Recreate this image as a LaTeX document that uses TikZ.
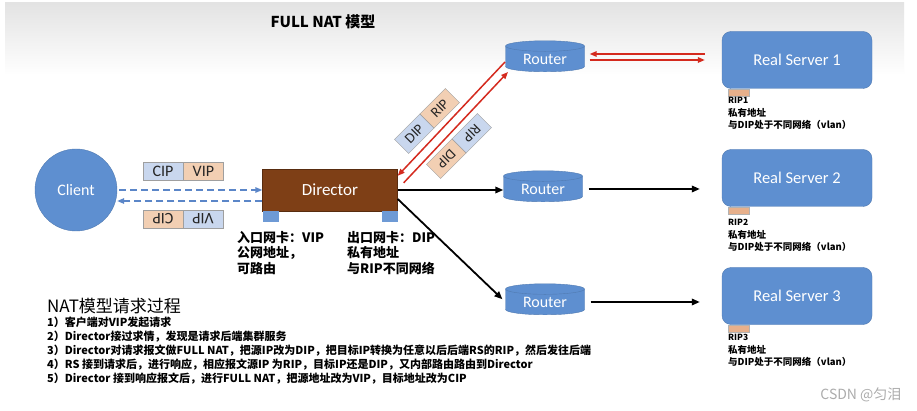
\documentclass[tikz,border=0pt]{standalone}
\usepackage{fontspec}
\setmainfont{Carlito}
\newfontfamily\cjk{Noto Sans CJK SC}
\usetikzlibrary{arrows.meta, calc, shapes.geometric, positioning}
\definecolor{nodeblue}{HTML}{5E8FD0}
\definecolor{dirbrown}{HTML}{7E3F16}
\definecolor{cellblue}{HTML}{C9D7EE}
\definecolor{cellpeach}{HTML}{F2CFB3}
\definecolor{nicpeach}{HTML}{E7B08B}
\definecolor{linkred}{HTML}{D42A1E}
\definecolor{dashblue}{HTML}{5B86C8}

\begin{document}
\begin{tikzpicture}[x=1pt, y=-1pt,
    bluebox/.style={fill=nodeblue, draw=nodeblue!85!black, text=white, font=\fontsize{16}{18}\selectfont},
    router/.style={bluebox, cylinder, shape border rotate=90, aspect=0.24, minimum width=79pt, minimum height=31pt, inner sep=0pt},
    server/.style={bluebox, rounded corners=9pt, minimum width=150pt, minimum height=57pt, font=\fontsize{16.5}{18}\selectfont},
    pkt/.style={draw=gray!75, minimum width=40pt, minimum height=18pt, inner sep=0pt, font=\fontsize{16}{17}\selectfont, text=black!85},
    dpkt/.style={pkt, minimum width=36pt, minimum height=20pt, font=\fontsize{14.5}{15}\selectfont},
    nic/.style={fill=nodeblue!90!white, minimum width=16pt, minimum height=11pt, inner sep=0pt},
    rsnic/.style={fill=nicpeach, draw=gray!60, minimum width=21pt, minimum height=7pt, inner sep=0pt},
    note/.style={anchor=north west, align=left, inner sep=0pt, font=\cjk\bfseries\fontsize{13}{15.5}\selectfont},
    rsnote/.style={note, font=\cjk\bfseries\fontsize{9.5}{12.5}\selectfont},
    flow/.style={line width=1.8pt, -{Triangle[length=8pt, width=6.5pt]}},
    redflow/.style={draw=linkred, line width=1.5pt, -{Triangle[length=7pt, width=5.5pt]}},
    dashflow/.style={draw=dashblue, line width=1.5pt, dash pattern=on 7pt off 4pt, -{Triangle[length=7pt, width=5.5pt]}}]

    % page and faint top shading
    \useasboundingbox (0,0) rectangle (917,411);
    \fill[white] (0,0) rectangle (917,411);
    \shade[top color=gray!22, bottom color=white] (5,3) rectangle (904,75);

    \node[font=\cjk\bfseries\fontsize{15}{17}\selectfont] (title) at (323,22) {FULL NAT 模型};

    \node[circle, bluebox, minimum size=82pt, inner sep=0pt] (client) at (76,190) {Client};
    \node[fill=dirbrown, draw=dirbrown!70!black, text=white, minimum width=135pt, minimum height=42pt, font=\fontsize{17}{19}\selectfont] (dir) at (330,190) {Director};
    \node[nic, anchor=north west] (nicin) at (dir.south west) {};
    \node[nic, anchor=north east] (nicout) at (dir.south east) {};

    \node[router] (r1) at (545,59) {Router};
    \node[router] (r2) at (543,189) {Router};
    \node[router] (r3) at (545,302) {Router};

    \node[server] (rs1) at (797,60) {Real Server 1};
    \node[server] (rs2) at (797,178) {Real Server 2};
    \node[server] (rs3) at (797,296) {Real Server 3};
    \node[rsnic, anchor=north west] (rip1) at ($(rs1.south west)+(6,0)$) {};
    \node[rsnic, anchor=north west] (rip2) at ($(rs2.south west)+(6,0)$) {};
    \node[rsnic, anchor=north west] (rip3) at ($(rs3.south west)+(6,0)$) {};

    % packets between client and director
    \node[pkt, fill=cellblue] (cip) at (163,171) {CIP};
    \node[pkt, fill=cellpeach, right=0pt of cip] (vip) {VIP};
    \begin{scope}[shift={(183,219)}, rotate=180, transform shape]
      \node[pkt, fill=cellblue] (backvip) at (-20,0) {VIP};
      \node[pkt, fill=cellpeach] (backcip) at (20,0) {CIP};
    \end{scope}

    % packets between director and router 1
    \begin{scope}[shift={(427,121)}, rotate=45, transform shape]
      \node[dpkt, fill=cellblue] (updip) at (-18,0) {DIP};
      \node[dpkt, fill=cellpeach] (uprip) at (18,0) {RIP};
    \end{scope}
    \begin{scope}[shift={(459,146)}, rotate=225, transform shape]
      \node[dpkt, fill=cellblue] (downrip) at (-18,0) {RIP};
      \node[dpkt, fill=cellpeach] (downdip) at (18,0) {DIP};
    \end{scope}

    \draw[dashflow] ($(client.east)+(2,0)$) -- (dir.west);
    \draw[dashflow] ($(dir.west)+(0,11)$) -- ($(client.east)+(0,11)$);

    \draw[redflow] ($(r1.center)+(-40,3)$) -- ($(dir.north east)+(0,7)$);
    \draw[redflow] ($(dir.north east)+(6,14)$) -- ($(r1.center)+(-37,13)$);
    \draw[redflow, shorten <=17pt, shorten >=5pt] ([yshift=6pt]rs1.west) -- ([yshift=6pt]rs1.west -| r1.east);
    \draw[redflow, shorten <=5pt, shorten >=17pt] (r1.east |- rs1.west) -- (rs1.west);

    \draw[flow] (dir.east) -- (dir.east -| r2.west);
    \draw[flow, shorten <=6pt, shorten >=22pt] (r2.east) -- (r2.east -| rs2.west);
    \draw[flow, shorten >=4pt] ($(dir.east)+(0,9)$) -- (r3.west);
    \draw[flow, shorten <=6pt, shorten >=22pt] (r3.east) -- (r3.east -| rs3.west);

    \node[note] (innote) at (237,231) {入口网卡：VIP\\公网地址，\\可路由};
    \node[note] (outnote) at (347,231) {出口网卡：DIP\\私有地址\\与RIP不同网络};

    \node[rsnote] (rs1note) at (728,97) {{\fontsize{8.5}{12.5}\selectfont RIP1}\\私有地址\\与DIP处于不同网络（vlan）};
    \node[rsnote] (rs2note) at (728,219) {{\fontsize{8.5}{12.5}\selectfont RIP2}\\私有地址\\与DIP处于不同网络（vlan）};
    \node[rsnote] (rs3note) at (728,334) {{\fontsize{8.5}{12.5}\selectfont RIP3}\\私有地址\\与DIP处于不同网络（vlan）};

    \node[anchor=west, inner sep=0pt, font=\cjk\fontsize{17}{20}\selectfont] (steptitle) at (47,306) {NAT模型请求过程};
    \node[note, font=\cjk\bfseries\fontsize{11}{14}\selectfont] (steps) at (47,317) {1）客户端对VIP发起请求\\
      2）Director接过求情，发现是请求后端集群服务\\
      3）Director对请求报文做FULL NAT，把源IP改为DIP，把目标IP转换为任意以后后端RS的RIP，然后发往后端\\
      4）RS 接到请求后，进行响应，相应报文源IP 为RIP，目标IP还是DIP，又内部路由路由到Director\\
      5）Director 接到响应报文后，进行FULL NAT，把源地址改为VIP，目标地址改为CIP};

    \node[anchor=east, font=\cjk\fontsize{14}{16}\selectfont, text=gray!65] (mark) at (905,395) {CSDN @匀泪};
\end{tikzpicture}
\end{document}
